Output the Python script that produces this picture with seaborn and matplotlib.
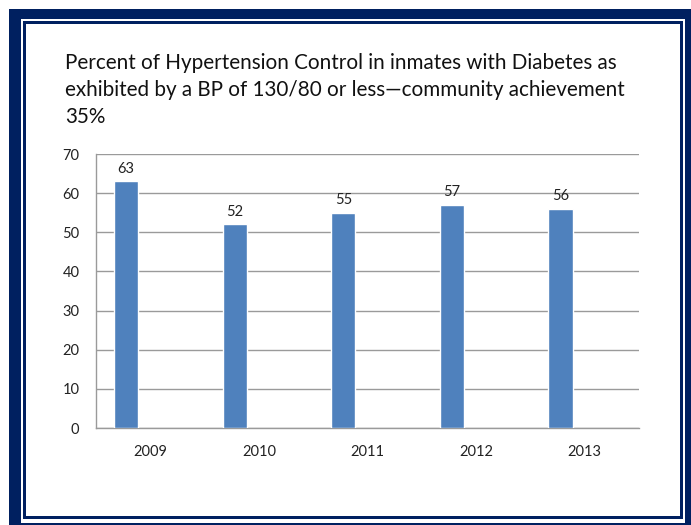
import pandas as pd
import numpy as np
import matplotlib
matplotlib.use("Agg")
import matplotlib.pyplot as plt
from matplotlib.patches import Rectangle
import seaborn as sns

# --- datos ---
years = ["2009", "2010", "2011", "2012", "2013"]
control_pct = [63, 52, 55, 57, 56]
series_names = ["Serie 1", "Serie 2", "Serie 3"]  # solo la primera tiene datos
y_ticks = [0, 10, 20, 30, 40, 50, 60, 70]
title_lines = [
    "Percent of Hypertension Control in inmates with Diabetes as",
    "exhibited by a BP of 130/80 or less\u2014community achievement",
    "35%",
]

sns.set_style("white")
plt.rcParams["font.family"] = ["Lato", "DejaVu Sans"]

NAVY = "#002060"
BAR = "#4F81BD"
GRID = "#9a9a9a"

W, H = 691, 525
fig = plt.figure(figsize=(W / 100, H / 100), dpi=100)


def px_rect(x0, y0, x1, y1, **kw):
    # rectángulo en pixeles (origen arriba a la izquierda)
    return Rectangle((x0 / W, 1 - y1 / H), (x1 - x0) / W, (y1 - y0) / H,
                     transform=fig.transFigure, figure=fig, zorder=-5, **kw)


# marco doble azul marino
fig.patches.append(px_rect(9, 9, 720, 560, facecolor=NAVY, edgecolor="none"))
fig.patches.append(px_rect(21, 19, 685, 523, facecolor="white", edgecolor="none"))
fig.patches.append(px_rect(23, 21, 683, 519, facecolor=NAVY, edgecolor="none"))
fig.patches.append(px_rect(26, 24, 680, 516, facecolor="white", edgecolor="none"))

df = pd.DataFrame({"year": years, "value": control_pct, "serie": series_names[0]})

ax = fig.add_axes([96 / W, 1 - 428 / H, (639 - 96) / W, (428 - 154) / H])
ax.set_facecolor("none")
sns.barplot(data=df, x="year", y="value", hue="serie", hue_order=series_names,
            order=years, width=0.667, dodge=True, palette=[BAR] * 3,
            legend=False, saturation=1, ax=ax, zorder=3)

for cont in ax.containers:
    ax.bar_label(cont, padding=4, fontsize=10.5, color="#222222")

ax.set_ylim(0, 70)
ax.set_xlim(-0.5, len(years) - 0.5)
ax.set_yticks(y_ticks)
ax.set_xticks(np.arange(-0.5, len(years)), minor=True)
ax.yaxis.grid(True, color=GRID, lw=1)
ax.set_axisbelow(True)
ax.set_xlabel("")
ax.set_ylabel("")

for s in ["top", "right"]:
    ax.spines[s].set_visible(False)
for s in ["left", "bottom"]:
    ax.spines[s].set_color(GRID)
    ax.spines[s].set_linewidth(1)

ax.tick_params(axis="y", which="major", length=4, color=GRID, direction="out",
               labelsize=10.5, pad=8, labelcolor="#222222")
ax.tick_params(axis="x", which="major", length=0, labelsize=10.5, pad=12,
               labelcolor="#222222")
ax.tick_params(axis="x", which="minor", length=4, color=GRID, direction="out")

fig.text(65 / W, 1 - 53 / H, "\n".join(title_lines), ha="left", va="top",
         fontsize=14.9, linespacing=1.45, color="#111111")

fig.savefig("out.png", dpi=100)
